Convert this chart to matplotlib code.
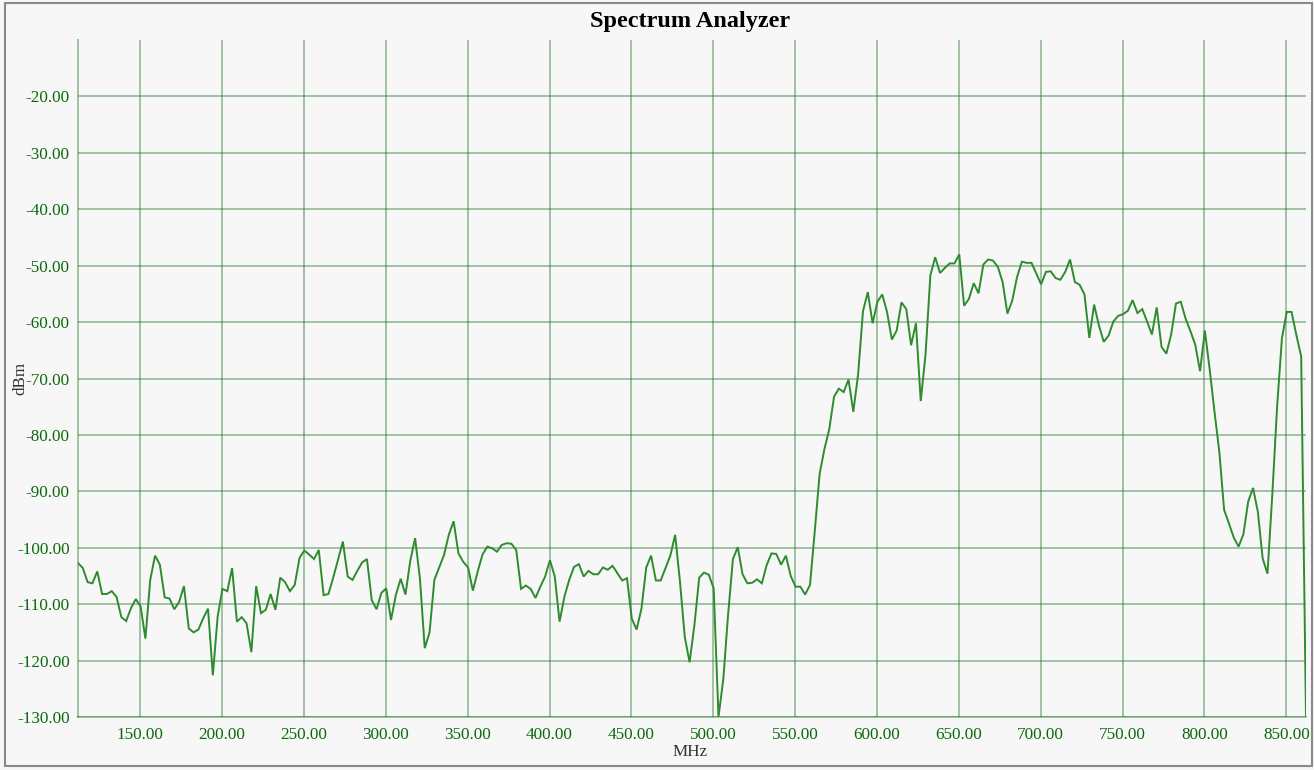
import numpy as np
import matplotlib
matplotlib.use("Agg")
import matplotlib.pyplot as plt
from matplotlib.patches import Rectangle
from matplotlib.ticker import FuncFormatter

# ---- data ----
freq_start = 112.0   # MHz
freq_stop = 862.0    # MHz

level_dbm = [
    # 112 .. ~300 MHz
    -102.7, -103.6, -106.1, -106.3, -104.2, -108.2, -108.2, -107.7, -108.7, -112.3,
    -113.0, -110.7, -109.1, -110.4, -116.1, -105.7, -101.4, -103.0, -108.8, -109.0,
    -110.9, -109.6, -106.8, -114.3, -115.0, -114.5, -112.5, -110.8, -122.6, -112.2,
    -107.3, -107.7, -103.6, -113.1, -112.3, -113.4, -118.5, -106.8, -111.6, -111.0,
    -108.2, -111.0, -105.3, -106.1, -107.7, -106.6, -101.8, -100.5, -101.2, -102.0,
    -100.4, -108.4, -108.2, -105.3, -102.1, -98.9, -105.1, -105.7, -104.1, -102.6,
    -102.0, -109.3, -110.9, -108.0, -107.2,
    # ~303 .. ~500 MHz
    -112.8, -108.4, -105.5, -108.3, -102.3, -98.3, -105.4, -117.8, -115.0, -105.7,
    -103.5, -101.3, -97.7, -95.3, -101.0, -102.5, -103.5, -107.6, -104.2, -101.2,
    -99.8, -100.1, -100.7, -99.5, -99.2, -99.3, -100.4, -107.3, -106.7, -107.3,
    -108.9, -106.9, -105.1, -102.2, -105.1, -113.1, -108.7, -105.7, -103.4, -102.9,
    -105.1, -104.1, -104.7, -104.7, -103.5, -103.9, -103.2, -104.5, -105.8, -105.4,
    -112.6, -114.5, -110.8, -103.5, -101.4, -105.8, -105.8, -103.6, -101.4, -97.7,
    -106.0, -115.8, -120.3, -113.7, -105.3, -104.4, -104.8, -107.2,
    # ~503 .. ~566 MHz
    -130.0, -123.3, -111.8, -102.0, -99.9, -104.7, -106.3, -106.2, -105.6, -106.3,
    -103.1, -101.0, -101.1, -103.0, -101.4, -105.0, -106.9, -106.9, -108.3, -106.6,
    -97.0, -86.9, -82.5,
    # ~569 .. ~689 MHz
    -79.0, -73.2, -71.8, -72.4, -70.2, -75.9, -69.2, -58.1, -54.7, -60.2,
    -56.4, -55.1, -58.2, -63.1, -61.5, -56.5, -57.7, -64.1, -60.2, -74.0,
    -65.7, -51.7, -48.5, -51.3, -50.4, -49.6, -49.6, -48.0, -57.1, -55.9,
    -53.1, -54.9, -49.8, -48.9, -49.1, -50.2, -52.9, -58.5, -56.2, -52.0,
    -49.3, -49.5,
    # ~692 .. 862 MHz
    -49.5, -51.4, -53.3, -51.1, -51.0, -52.2, -52.5, -51.1, -48.9, -52.9,
    -53.4, -55.1, -62.8, -56.9, -60.6, -63.5, -62.4, -59.9, -58.9, -58.6,
    -58.0, -56.1, -58.4, -57.7, -59.9, -62.2, -57.4, -64.4, -65.6, -62.2,
    -56.7, -56.4, -59.4, -61.6, -64.0, -68.7, -61.5, -68.4, -75.9, -83.0,
    -93.3, -95.7, -98.2, -99.8, -97.6, -91.8, -89.4, -93.6, -101.9, -104.6,
    -90.6, -75.0, -62.9, -58.2, -58.2, -62.3, -66.1, -130.0,
]

x_ticks = [150, 200, 250, 300, 350, 400, 450, 500, 550, 600, 650, 700, 750, 800, 850]
y_ticks = [-130, -120, -110, -100, -90, -80, -70, -60, -50, -40, -30, -20]
y_limits = (-130, -10)

title_text = "Spectrum Analyzer"
x_label = "MHz"
y_label = "dBm"

# ---- styling ----
BG = "#f7f7f7"
GRID = "#1a6e1a"
GRID_ALPHA = 0.42
LINE = "#2e8b2e"
TICK = "#0a6a0a"

plt.rcParams["font.family"] = ["Liberation Serif", "DejaVu Serif"]

W, H = 1314, 770
fig = plt.figure(figsize=(W / 100, H / 100), dpi=100, facecolor=BG)
ax = fig.add_axes([78 / W, 1 - 717 / H, (1306 - 78) / W, (717 - 40) / H], facecolor=BG)

freqs = np.linspace(freq_start, freq_stop, len(level_dbm))
ax.plot(freqs, level_dbm, color=LINE, lw=1.4, solid_joinstyle="miter", zorder=3)

ax.set_xlim(freq_start, freq_stop)
ax.set_ylim(*y_limits)
ax.set_xticks(x_ticks)
ax.set_yticks(y_ticks)
fmt = FuncFormatter(lambda v, p: f"{v:.2f}")
ax.xaxis.set_major_formatter(fmt)
ax.yaxis.set_major_formatter(fmt)
ax.tick_params(axis="both", length=0, labelsize=12.3, colors=TICK)
ax.tick_params(axis="x", pad=7)
ax.tick_params(axis="y", pad=6)

ax.grid(True, color=GRID, alpha=GRID_ALPHA, lw=1.3, zorder=1)
for side in ("top", "right"):
    ax.spines[side].set_visible(False)
for side in ("left", "bottom"):
    ax.spines[side].set_color(GRID)
    ax.spines[side].set_alpha(GRID_ALPHA)
    ax.spines[side].set_linewidth(1.3)

fig.text(690 / W, 1 - 22 / H, title_text, ha="center", va="center",
         fontsize=17.5, fontweight="bold", color="#000000")
fig.text(690 / W, 1 - 752 / H, x_label, ha="center", va="center",
         fontsize=12.3, color="#333333")
fig.text(20 / W, 1 - 378 / H, y_label, ha="center", va="center",
         fontsize=12.3, color="#333333", rotation=90)

fig.patches.append(Rectangle((5 / W, 1 - 766 / H), 1307 / W, 763 / H,
                             transform=fig.transFigure, fill=False,
                             edgecolor="#8a8a8a", lw=1.5))

fig.savefig("out.png", dpi=100, facecolor=BG)
